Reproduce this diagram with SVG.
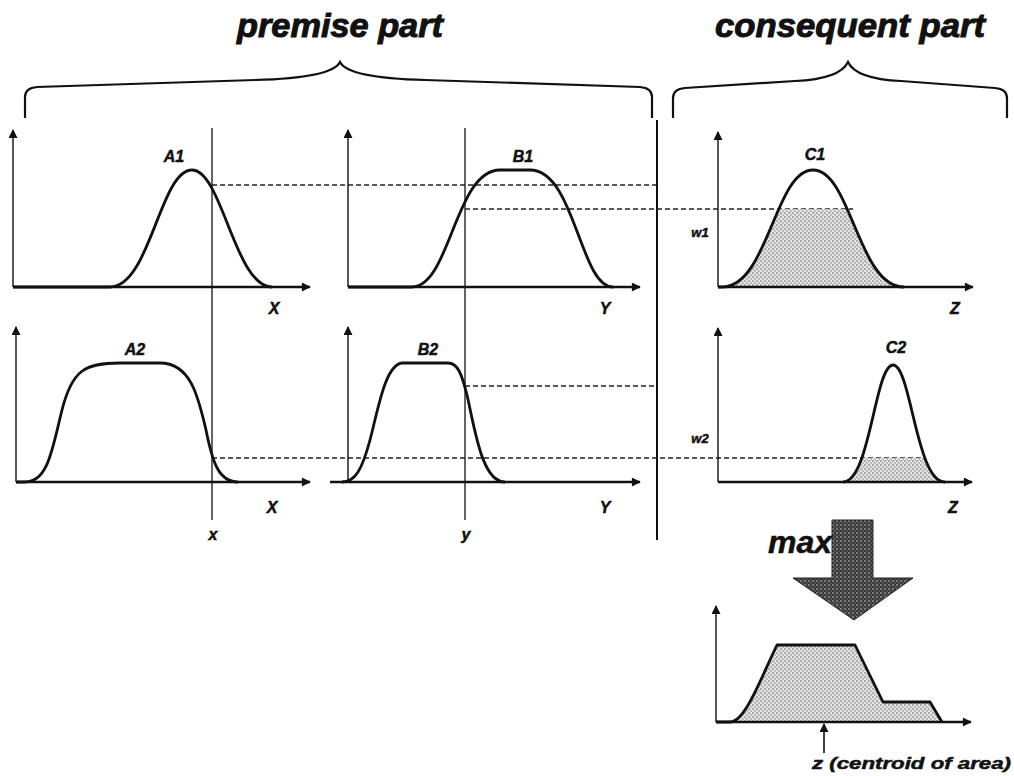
<svg xmlns="http://www.w3.org/2000/svg" width="1014" height="776" viewBox="0 0 1014 776">
<style>
.t{font-family:"Liberation Sans",Arial,sans-serif;font-weight:bold;font-style:italic;fill:#111;stroke:#111;stroke-width:0.5}
.title{font-size:34px;font-weight:900;stroke-width:1}
.lbl{font-size:16px;text-anchor:middle}
.sm{font-size:13px;text-anchor:middle}
.curve{fill:none;stroke:#111;stroke-width:2.8;stroke-linejoin:round}
.xax{stroke:#111;stroke-width:2.4;marker-end:url(#ah)}
.yax{stroke:#111;stroke-width:1.4;marker-end:url(#ah)}
.brace{fill:none;stroke:#111;stroke-width:2.2}
.dash{stroke:#222;stroke-width:1.4;stroke-dasharray:5 3;fill:none}
.vl{stroke:#111;stroke-width:1.3}
</style>
<defs>
<marker id="ah" viewBox="0 0 10 10" refX="9" refY="5" markerWidth="10" markerHeight="9" markerUnits="userSpaceOnUse" orient="auto">
<path d="M0,0 L10,5 L0,10 Z" fill="#111"/>
</marker>
<pattern id="dots" width="4" height="4" patternUnits="userSpaceOnUse">
<rect width="4" height="4" fill="#e4e4e4"/>
<circle cx="1" cy="1" r="0.8" fill="#666"/>
<circle cx="3" cy="3" r="0.8" fill="#888"/>
</pattern>
<pattern id="dark" width="4" height="4" patternUnits="userSpaceOnUse">
<rect width="4" height="4" fill="#3a3a3a"/>
<circle cx="1" cy="1" r="0.9" fill="#9a9a9a"/>
<circle cx="3" cy="3" r="0.7" fill="#777"/>
</pattern>
<clipPath id="c1clip"><rect x="700" y="209" width="300" height="80"/></clipPath>
<clipPath id="c2clip"><rect x="700" y="458" width="300" height="26"/></clipPath>
</defs>

<g id="title-premise"><text class="t title" x="340" y="37" text-anchor="middle" textLength="206" lengthAdjust="spacingAndGlyphs">premise part</text></g>
<g id="title-consequent"><text class="t title" x="850" y="37" text-anchor="middle" textLength="270" lengthAdjust="spacingAndGlyphs">consequent part</text></g>

<g id="brace-premise"><path class="brace" d="M25,118 L25,97 Q25,88 37,87 L255,80 Q332,78 340,62 Q348,78 425,80 L640,87 Q652,88 652,97 L652,118"/></g>
<g id="brace-consequent"><path class="brace" d="M673,118 L673,98 Q673,89 685,88 L795,81 Q840,79 848,62 Q856,79 901,81 L995,88 Q1007,89 1007,98 L1007,118"/></g>

<g id="connectors">
<line class="vl" x1="212" y1="128" x2="212" y2="520"/>
<line class="vl" x1="465" y1="128" x2="465" y2="520"/>
<line x1="657" y1="120" x2="657" y2="540" stroke="#111" stroke-width="2"/>
<line class="dash" x1="212" y1="185" x2="657" y2="185"/>
<line class="dash" x1="465" y1="209" x2="853" y2="209"/>
<line class="dash" x1="465" y1="386" x2="657" y2="386"/>
<line class="dash" x1="212" y1="458" x2="926" y2="458"/>
</g>

<g id="chart-A1">
<line class="yax" x1="13" y1="287" x2="13" y2="130"/>
<line class="xax" x1="13" y1="287" x2="310" y2="287"/>
<path class="curve" d="M13,287 L110,287 C150,287 160,170 192,170 C222,170 235,287 272,287"/>
<text class="t lbl" x="174" y="162">A1</text>
<text class="t lbl" x="274" y="314">X</text>
</g>

<g id="chart-B1">
<line class="yax" x1="348" y1="287" x2="348" y2="130"/>
<line class="xax" x1="348" y1="287" x2="640" y2="287"/>
<path class="curve" d="M348,287 L412,287 C450,287 455,170 500,170 L530,170 C575,170 580,287 613,287"/>
<text class="t lbl" x="523" y="162">B1</text>
<text class="t lbl" x="605" y="314">Y</text>
</g>

<g id="chart-C1">
<path d="M722,287 C768,287 775,170 813,170 C851,170 858,287 904,287 Z" fill="url(#dots)" clip-path="url(#c1clip)"/>
<line class="yax" x1="718" y1="287" x2="718" y2="132"/>
<line class="xax" x1="718" y1="287" x2="973" y2="287"/>
<path class="curve" d="M718,287 L722,287 C768,287 775,170 813,170 C851,170 858,287 904,287"/>
<text class="t lbl" x="815" y="160">C1</text>
<text class="t sm" x="700" y="237">w1</text>
<text class="t lbl" x="955" y="314">Z</text>
</g>

<g id="chart-A2">
<line class="yax" x1="16" y1="482" x2="16" y2="327"/>
<line class="xax" x1="16" y1="482" x2="310" y2="482"/>
<path class="curve" d="M16,482 L25,482 C48,482 52,450 62,410 C72,370 85,363 120,363 L160,363 C190,363 198,395 206,430 C212,460 218,482 238,482"/>
<text class="t lbl" x="135" y="355">A2</text>
<text class="t lbl" x="272" y="513">X</text>
<text class="t lbl" x="213" y="540">x</text>
</g>

<g id="chart-B2">
<line class="yax" x1="348" y1="482" x2="348" y2="327"/>
<line class="xax" x1="330" y1="482" x2="640" y2="482"/>
<path class="curve" d="M342,482 C355,482 362,470 370,440 C378,410 385,365 402,363 L448,363 C458,363 462,375 467,395 C475,430 482,482 505,482"/>
<text class="t lbl" x="428" y="355">B2</text>
<text class="t lbl" x="605" y="513">Y</text>
<text class="t lbl" x="466" y="540">y</text>
</g>

<g id="chart-C2">
<path d="M843,482 C870,482 875,365 893,365 C911,365 916,482 945,482 Z" fill="url(#dots)" clip-path="url(#c2clip)"/>
<line class="yax" x1="718" y1="482" x2="718" y2="328"/>
<line class="xax" x1="718" y1="482" x2="972" y2="482"/>
<path class="curve" d="M843,482 C870,482 875,365 893,365 C911,365 916,482 945,482"/>
<text class="t lbl" x="896" y="353">C2</text>
<text class="t sm" x="700" y="443">w2</text>
<text class="t lbl" x="953" y="513">Z</text>
</g>

<g id="max-arrow">
<path d="M832,520 L873,520 L873,578 L913,578 L854,620 L793,578 L832,578 Z" fill="url(#dark)" stroke="#222" stroke-width="1"/>
<text class="t" x="832" y="553" font-size="32" text-anchor="end" font-weight="900">max</text>
</g>

<g id="chart-result">
<path d="M730,722 C745,722 760,680 777,645 L855,645 L883,702 L930,702 L942,722 Z" fill="url(#dots)"/>
<line class="yax" x1="716" y1="722" x2="716" y2="606"/>
<line class="xax" x1="716" y1="722" x2="971" y2="722"/>
<path class="curve" d="M716,722 L730,722 C745,722 760,680 777,645 L855,645 L883,702 L930,702 L942,722"/>
<line x1="824" y1="753" x2="824" y2="724" stroke="#111" stroke-width="1.6" marker-end="url(#ah)"/>
<text class="t" x="812" y="769" font-size="16" textLength="199" lengthAdjust="spacingAndGlyphs">z (centroid of area)</text>
</g>
</svg>
